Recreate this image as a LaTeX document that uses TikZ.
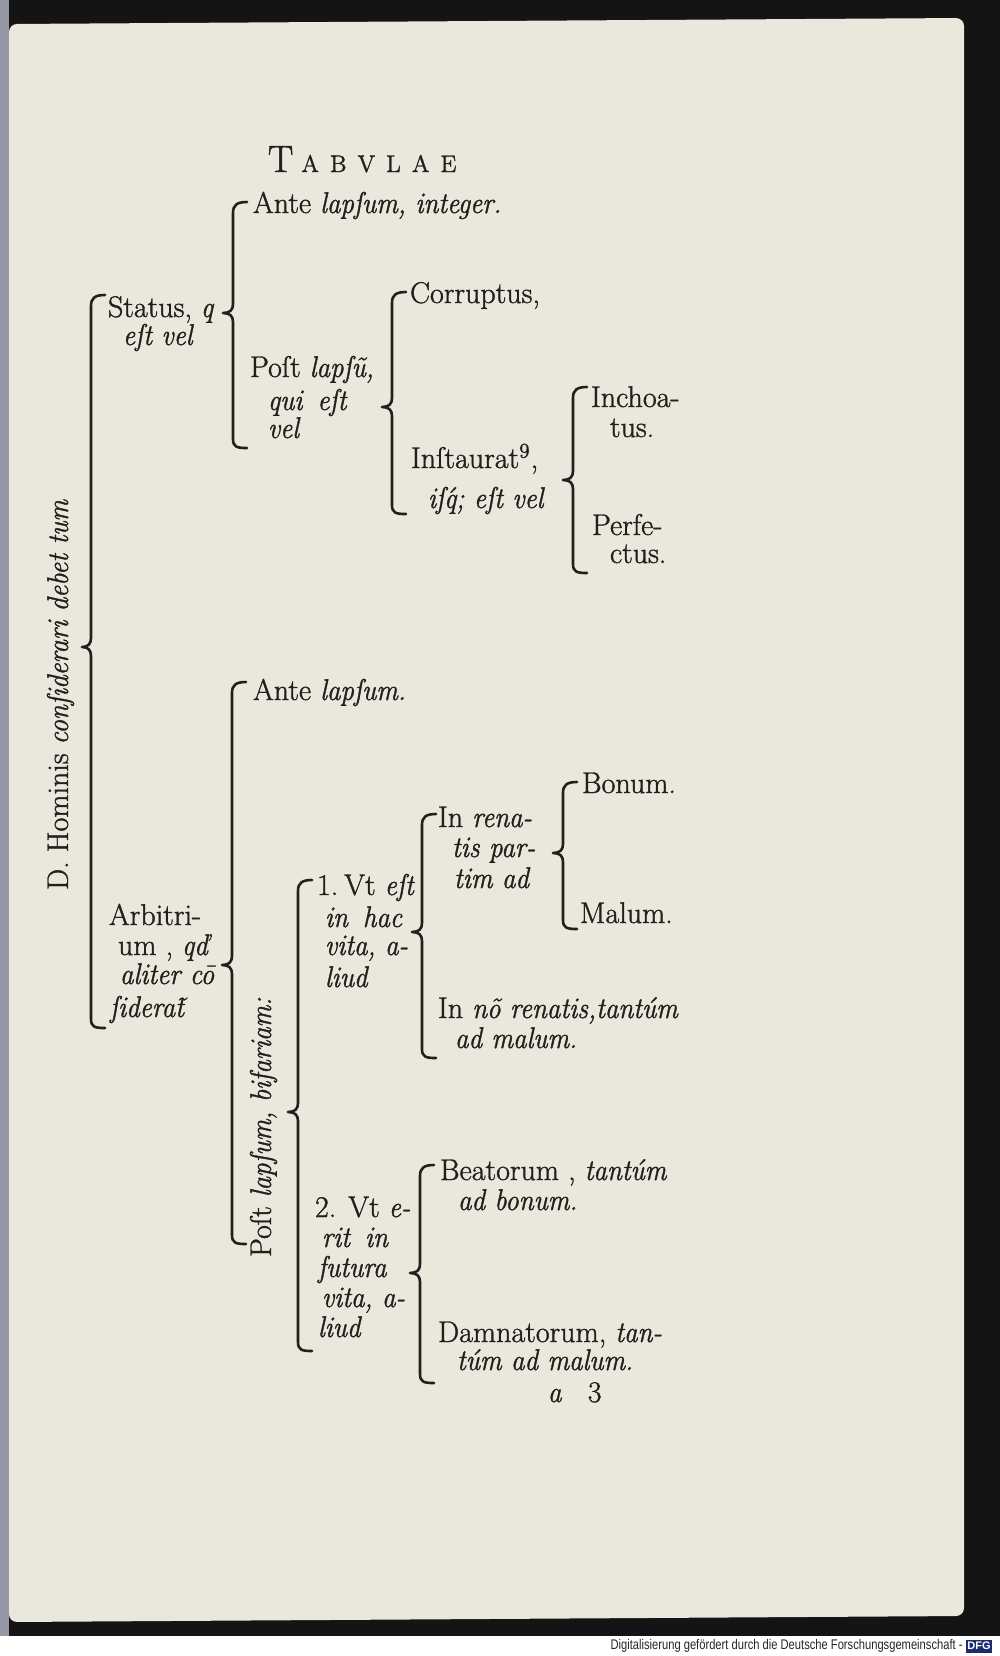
\documentclass[tikz,border=0pt]{standalone}
\usepackage{fontspec}
\usepackage{graphicx}
\setmainfont{Latin Modern Roman}[UprightFeatures={FakeBold=1.2}, ItalicFeatures={FakeBold=1.2, FakeStretch=0.9}]
\newfontfamily\dfgfont{Liberation Sans}
\definecolor{paper}{RGB}{234,231,221}
\definecolor{ink}{RGB}{36,31,30}
\definecolor{frame}{RGB}{20,20,20}
\definecolor{edge}{RGB}{150,152,165}
\definecolor{dfgblue}{RGB}{28,45,110}
\tikzset{
 txt/.style={anchor=base west, inner sep=0pt, outer sep=0pt, text=ink, font=\fontsize{15}{16}\selectfont},
 brc/.style={draw=ink, line width=1.3pt, line cap=round, line join=round},
}
\newcommand\obr[6]{%
 \coordinate (#1t) at ({#2+14},{#3-3});
 \coordinate (#1m) at ({#2-#6},#4);
 \coordinate (#1b) at ({#2+14},{#5+1});
 \draw[brc] (#1t) .. controls ({#2+4},{#3-3}) and (#2,#3) .. (#2,{#3+8})
   -- (#2,{#4-9}) .. controls (#2,{#4-3}) and ({#2-3},#4) .. (#1m)
   .. controls ({#2-3},#4) and (#2,{#4+3}) .. (#2,{#4+9})
   -- (#2,{#5-8}) .. controls (#2,#5) and ({#2+4},{#5+1}) .. (#1b);
}
\begin{document}
\begin{tikzpicture}[x=0.5pt,y=-0.5pt]
\useasboundingbox (0,0) rectangle (1000,1656);
% page and frame
\fill[frame] (0,0) rectangle (1000,1636);
\fill[edge] (0,0) rectangle (9,1636);
\fill[paper, rounded corners=4pt] (9,24) -- (964,18) -- (964,1616) -- (9,1622) -- cycle;
\fill[white] (0,1636) rectangle (1000,1656);
\node[anchor=east, inner sep=0pt, text=black!85, font=\dfgfont\fontsize{7}{8}\selectfont] (dfgtxt) at (963,1646) {\resizebox{176pt}{\height}{Digitalisierung gefördert durch die Deutsche Forschungsgemeinschaft -}};
\node[fill=dfgblue, text=white, font=\dfgfont\bfseries\fontsize{5.5}{6}\selectfont, inner sep=0pt, minimum width=13pt, minimum height=6.5pt] (dfg) at (979,1646) {DFG};

% header
\node[txt] (head) at (268,172) {{\fontsize{19}{19}\selectfont T}\kern4pt{\fontsize{12}{12}\selectfont A\kern5.5pt B\kern5.5pt V\kern5.5pt L\kern5.5pt A\kern5.5pt E}};

% braces
\obr{bA}{91}{298}{647}{1027}{9}
\obr{bB}{233}{205}{313}{447}{10}
\obr{bC}{392}{295}{407}{513}{10}
\obr{bD}{573}{390}{480}{572}{10}
\obr{bE}{232}{685}{965}{1243}{10}
\obr{bF}{298}{883}{1112}{1350}{10}
\obr{bG}{422}{817}{932}{1057}{10}
\obr{bH}{563}{785}{853}{928}{10}
\obr{bI}{420}{1168}{1273}{1382}{10}

% rotated labels
\node[txt, rotate=90] (lab1) at (68,890) {D. Hominis \textit{conſiderari debet tum}};
\node[txt, rotate=90] (lab2) at (271,1257) {Poſt \textit{lapſum, bifariam:}};

% Status branch
\node[txt] (t1) at (253,213) {Ante \textit{lapſum, integer.}};
\node[txt] (t2) at (108,317) {Status, \textit{q}};
\node[txt] (t3) at (123,345) {\textit{eſt vel}};
\node[txt] (t4) at (250,377) {Poſt \textit{lapſũ,}};
\node[txt] (t5) at (268,410) {\textit{qui\enspace eſt}};
\node[txt] (t6) at (268,438) {\textit{vel}};
\node[txt] (t7) at (410,303) {Corruptus,};
\node[txt] (t8) at (411,468) {Inſtaurat\textsuperscript{9},};
\node[txt] (t9) at (428,508) {\textit{iſq\llap{´\kern0.5pt}; eſt vel}};
\node[txt] (t10) at (591,407) {Inchoa-};
\node[txt] (t11) at (610,437) {tus.};
\node[txt] (t12) at (592,535) {Perfe-};
\node[txt] (t13) at (610,563) {ctus.};

% Arbitrium branch
\node[txt] (u1) at (253,700) {Ante \textit{lapſum.}};
\node[txt] (u2) at (109,925) {Arbitri-};
\node[txt] (u3) at (118,955) {um , \textit{qď}};
\node[txt] (u4) at (120,984) {\textit{aliter cō}};
\node[txt] (u5) at (110,1017) {\textit{ſiderat\llap{˜\kern-1pt}}};
\node[txt] (u6) at (317,895) {1.\kern3pt Vt \textit{eſt}};
\node[txt] (u7) at (325,927) {\textit{in\enspace hac}};
\node[txt] (u8) at (325,955) {\textit{vita, a-}};
\node[txt] (u9) at (325,987) {\textit{liud}};
\node[txt] (u10) at (438,827) {In \textit{rena-}};
\node[txt] (u11) at (452,857) {\textit{tis par-}};
\node[txt] (u12) at (454,888) {\textit{tim ad}};
\node[txt] (u13) at (582,793) {Bonum.};
\node[txt] (u14) at (580,923) {Malum.};
\node[txt] (u15) at (438,1018) {In \textit{nõ renatis,tantúm}};
\node[txt] (u16) at (455,1048) {\textit{ad malum.}};
\node[txt] (u17) at (315,1217) {2. Vt \textit{e-}};
\node[txt] (u18) at (322,1247) {\textit{rit\enspace in}};
\node[txt] (u19) at (318,1277) {\textit{futura}};
\node[txt] (u20) at (322,1307) {\textit{vita, a-}};
\node[txt] (u21) at (318,1337) {\textit{liud}};
\node[txt] (u22) at (440,1180) {Beatorum , \textit{tantúm}};
\node[txt] (u23) at (458,1210) {\textit{ad bonum.}};
\node[txt] (u24) at (438,1342) {Damnatorum, \textit{tan-}};
\node[txt] (u25) at (457,1370) {\textit{túm ad malum.}};
\node[txt] (sig) at (548,1402) {\textit{a}\kern13pt 3};
\end{tikzpicture}
\end{document}
